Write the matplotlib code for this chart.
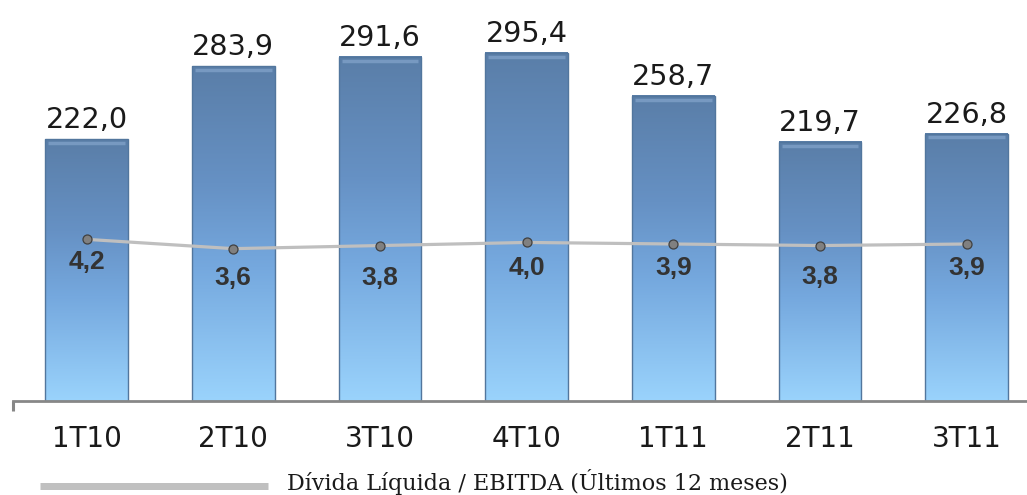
import numpy as np
import matplotlib
matplotlib.use("Agg")
import matplotlib.pyplot as plt
from matplotlib.colors import LinearSegmentedColormap
from matplotlib.lines import Line2D
from matplotlib.patches import Rectangle

# ---- data ----
categories = ["1T10", "2T10", "3T10", "4T10", "1T11", "2T11", "3T11"]
bar_values = [222.0, 283.9, 291.6, 295.4, 258.7, 219.7, 226.8]
ratio_values = [4.2, 3.6, 3.8, 4.0, 3.9, 3.8, 3.9]
legend_label = "Dívida Líquida / EBITDA (Últimos 12 meses)"

# label offsets below points (px), style only
ratio_label_offsets_px = [21, 27, 30, 24, 22, 29, 22]

W, H = 1027, 495
DPI = 100
fig = plt.figure(figsize=(W / DPI, H / DPI), dpi=DPI)

ax_left = 13.2 / W
ax_width = 7 * 146.7 / W
ax_bottom = (H - 401.3) / H
ax_height = 401.3 / H
ax = fig.add_axes([ax_left, ax_bottom, ax_width, ax_height])
ax.set_xlim(-0.5, len(categories) - 0.5)
ax.set_ylim(0, 340.1)

cmap = LinearSegmentedColormap.from_list(
    "barg", [(0.0, "#5a7ea8"), (0.35, "#6691c4"), (0.6, "#75a8de"),
             (1.0, "#9ad3fc")])
grad = np.linspace(0, 1, 256).reshape(-1, 1)

bw = 0.5625
x = np.arange(len(categories))
for xi, v in zip(x, bar_values):
    ax.imshow(grad, cmap=cmap, aspect="auto", origin="upper",
              extent=[xi - bw / 2, xi + bw / 2, 0, v], zorder=2,
              interpolation="bicubic")
    ax.add_patch(Rectangle((xi - bw / 2, 0), bw, v, fill=False,
                           edgecolor="#52769d", lw=1.0, zorder=3))
    # soft top bevel
    ax.plot([xi - bw / 2 + 0.02, xi + bw / 2 - 0.02], [v - 3.2, v - 3.2],
            color="#8fb0d6", lw=2.5, alpha=0.55, zorder=3,
            solid_capstyle="butt")
    ax.annotate(f"{v:.1f}".replace(".", ","), xy=(xi, v),
                xytext=(0, 11 * 0.72), textcoords="offset points",
                ha="center", va="baseline", fontsize=20.6,
                family="DejaVu Sans", color="#1a1a1a")

ax.set_xticks(x)
ax.set_xticklabels(categories, fontsize=20, family="DejaVu Sans",
                   color="#1a1a1a")
ax.tick_params(axis="x", which="major", length=0, pad=17)
ax.set_xticks([-0.5], minor=True)
ax.tick_params(axis="x", which="minor", length=7, width=2.2,
               color="#878787", direction="out")
ax.set_yticks([])
for s in ["left", "right", "top"]:
    ax.spines[s].set_visible(False)
ax.spines["bottom"].set_color("#878787")
ax.spines["bottom"].set_linewidth(2.0)
ax.spines["bottom"].set_zorder(5)

# secondary axis for ratio line
ax2 = ax.twinx()
ax2.set_ylim(-6.241, 19.63)
ax2.set_yticks([])
for s in ax2.spines.values():
    s.set_visible(False)
ax2.plot(x, ratio_values, color="#bfbfbf", lw=2.3, zorder=4,
         marker="o", markersize=6.5, markerfacecolor="#808080",
         markeredgecolor="#404040", markeredgewidth=0.9)
for xi, v, off in zip(x, ratio_values, ratio_label_offsets_px):
    ax2.annotate(f"{v:.1f}".replace(".", ","), xy=(xi, v),
                 xytext=(0, -(off + 9) * 0.72), textcoords="offset points",
                 ha="center", va="baseline", fontsize=19,
                 fontweight="bold", family="Liberation Sans",
                 color="#333333")

# legend
ly = (H - 486) / H
fig.add_artist(Line2D([40 / W, 268 / W], [ly, ly], color="#c0c0c0",
                      lw=7 * 0.72, solid_capstyle="butt"))
fig.text(287 / W, (H - 490.0) / H, legend_label, fontsize=16.0,
         family="DejaVu Serif", va="baseline", ha="left", color="#1a1a1a")

fig.savefig("out.png", dpi=DPI)
